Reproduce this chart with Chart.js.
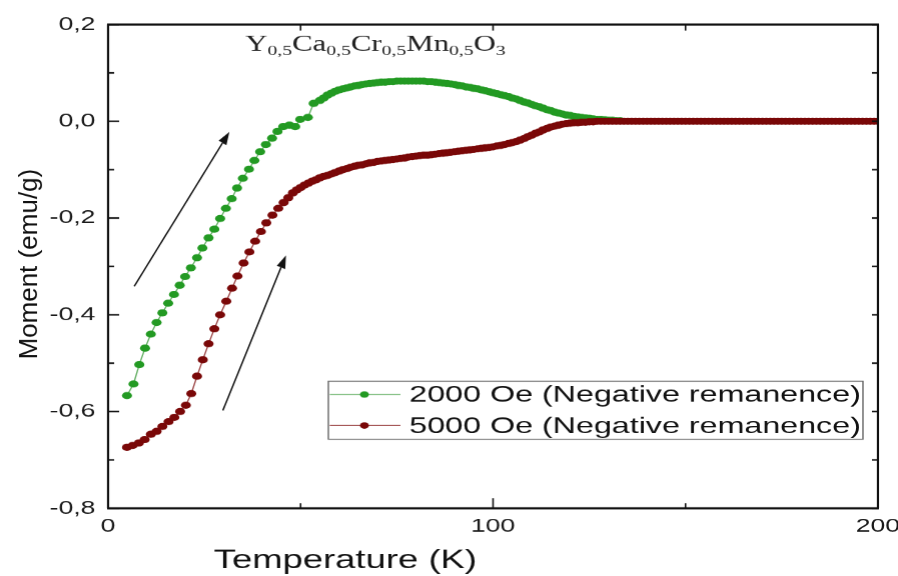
<!DOCTYPE html>
<html>
<head>
<meta charset="utf-8">
<script src="https://cdn.jsdelivr.net/npm/chart.js@4.4.1/dist/chart.umd.min.js"></script>
<style>
  html, body { margin: 0; padding: 0; background: #fff; }
  #chart { display: block; }
</style>
</head>
<body>
<canvas id="chart" width="641" height="576" style="width:898px;height:576px"></canvas>
<script>
// the original figure is stretched sideways, so the canvas is drawn narrow and widened by CSS
const SX = 1.4;

// 2000 Oe, negative remanence
const greenT = [
  4.9, 6.6, 8.1, 9.6, 11.1, 12.6, 14.1, 15.6, 17.1, 18.6,
  20.0, 21.5, 23.1, 24.5, 26.1, 27.6, 29.1, 30.6, 32.1, 33.5,
  35.0, 36.6, 38.0, 39.5, 41.0, 42.6, 44.0, 45.5, 47.1, 48.6,
  49.9, 51.9, 53.4,
  55, 56, 57, 58, 59, 60, 61, 62, 63, 64,
  65, 66, 67, 68, 69, 70, 71, 72, 73, 74,
  75, 76, 77, 78, 79, 80, 81, 82, 83, 84,
  85, 86, 87, 88, 89, 90, 91, 92, 93, 94,
  95, 96, 97, 98, 99, 100, 101, 102, 103, 104,
  105, 106, 107, 108, 109, 110, 111, 112, 113, 114,
  115, 116, 117, 118, 119, 120, 121, 122, 123, 124,
  125, 126, 127, 128, 129, 130, 131, 132, 133
];
const greenM = [
  -0.567, -0.543, -0.503, -0.469, -0.440, -0.416, -0.396, -0.376, -0.358, -0.339,
  -0.321, -0.303, -0.282, -0.262, -0.241, -0.223, -0.201, -0.180, -0.160, -0.138,
  -0.118, -0.099, -0.081, -0.063, -0.048, -0.035, -0.021, -0.011, -0.008, -0.011,
  0.004, 0.008, 0.037,
  0.043, 0.048, 0.054, 0.058, 0.062, 0.065, 0.067, 0.069, 0.071, 0.073,
  0.074, 0.076, 0.077, 0.078, 0.079, 0.080, 0.081, 0.081, 0.082, 0.082,
  0.083, 0.083, 0.083, 0.083, 0.083, 0.083, 0.083, 0.083, 0.082, 0.082,
  0.081, 0.080, 0.079, 0.078, 0.077, 0.076, 0.074, 0.073, 0.071, 0.070,
  0.068, 0.067, 0.065, 0.063, 0.061, 0.059, 0.057, 0.055, 0.053, 0.051,
  0.048, 0.046, 0.043, 0.040, 0.038, 0.035, 0.032, 0.030, 0.027, 0.024,
  0.022, 0.019, 0.017, 0.015, 0.013, 0.012, 0.010, 0.009, 0.008, 0.007,
  0.006, 0.005, 0.004, 0.004, 0.003, 0.002, 0.002, 0.001, 0.001
];

// 5000 Oe, negative remanence
const redT = [
  4.9, 6.4, 8.0, 9.5, 11.1, 12.6, 14.1, 15.7, 17.2, 18.7,
  20.2, 21.6, 23.1, 24.6, 26.1, 27.6, 29.1, 30.7, 32.2, 33.6,
  35.2, 36.7, 38.2, 39.7, 41.1, 42.7, 44.2, 45.6, 46.8,
  48, 49, 50, 51, 52, 53, 54, 55, 56, 57,
  58, 59, 60, 61, 62, 63, 64, 65, 66, 67,
  68, 69, 70, 71, 72, 73, 74, 75, 76, 77,
  78, 79, 80, 81, 82, 83, 84, 85, 86, 87,
  88, 89, 90, 91, 92, 93, 94, 95, 96, 97,
  98, 99, 100, 101, 102, 103, 104, 105, 106, 107,
  108, 109, 110, 111, 112, 113, 114, 115, 116, 117,
  118, 119, 120, 121, 122, 123, 124, 125, 126,
  127, 128, 129, 130, 131, 132, 133, 134, 135, 136,
  137, 138, 139, 140, 141, 142, 143, 144, 145, 146,
  147, 148, 149, 150, 151, 152, 153, 154, 155, 156,
  157, 158, 159, 160, 161, 162, 163, 164, 165, 166,
  167, 168, 169, 170, 171, 172, 173, 174, 175, 176,
  177, 178, 179, 180, 181, 182, 183, 184, 185, 186,
  187, 188, 189, 190, 191, 192, 193, 194, 195, 196,
  197, 198, 199, 200
];
const redM = [
  -0.674, -0.670, -0.665, -0.658, -0.647, -0.641, -0.631, -0.621, -0.612, -0.600,
  -0.587, -0.563, -0.527, -0.493, -0.460, -0.429, -0.400, -0.372, -0.345, -0.320,
  -0.293, -0.270, -0.248, -0.228, -0.210, -0.194, -0.180, -0.168, -0.158,
  -0.148, -0.142, -0.137, -0.132, -0.128, -0.124, -0.121, -0.117, -0.114, -0.112,
  -0.109, -0.106, -0.103, -0.100, -0.098, -0.095, -0.093, -0.091, -0.090, -0.088,
  -0.086, -0.085, -0.083, -0.082, -0.081, -0.080, -0.079, -0.078, -0.077, -0.076,
  -0.074, -0.073, -0.072, -0.071, -0.070, -0.070, -0.069, -0.068, -0.067, -0.066,
  -0.065, -0.064, -0.063, -0.062, -0.061, -0.060, -0.059, -0.058, -0.057, -0.056,
  -0.055, -0.054, -0.053, -0.051, -0.050, -0.048, -0.046, -0.044, -0.042, -0.039,
  -0.036, -0.032, -0.029, -0.025, -0.022, -0.018, -0.015, -0.012, -0.010, -0.008,
  -0.006, -0.005, -0.004, -0.003, -0.003, -0.002, -0.002, -0.001, -0.001,
  0, 0, 0, 0, 0, 0, 0, 0, 0, 0,
  0, 0, 0, 0, 0, 0, 0, 0, 0, 0,
  0, 0, 0, 0, 0, 0, 0, 0, 0, 0,
  0, 0, 0, 0, 0, 0, 0, 0, 0, 0,
  0, 0, 0, 0, 0, 0, 0, 0, 0, 0,
  0, 0, 0, 0, 0, 0, 0, 0, 0, 0,
  0, 0, 0, 0, 0, 0, 0, 0, 0, 0,
  0, 0, 0, 0
];

const seriesNames = ['2000 Oe (Negative remanence)', '5000 Oe (Negative remanence)'];

const xTickValues = [0, 100, 200];
const xTickLabels = ['0', '100', '200'];
const xMinorValues = [50, 150];
const yTickValues = [-0.8, -0.6, -0.4, -0.2, 0.0, 0.2];
const yTickLabels = ['-0,8', '-0,6', '-0,4', '-0,2', '0,0', '0,2'];
const yMinorValues = [-0.7, -0.5, -0.3, -0.1, 0.1];

// arrows drawn on the plot, in data units [T, M]
const arrowTails = [[6.8, -0.341], [29.8, -0.598]];
const arrowHeads = [[31.5, -0.022], [46.2, -0.277]];

const compound = [['Y', 0], ['0,5', 1], ['Ca', 0], ['0,5', 1], ['Cr', 0], ['0,5', 1], ['Mn', 0], ['0,5', 1], ['O', 0], ['3', 1]];

const SANS = '"Liberation Sans", Arial, sans-serif';
const SERIF = '"Liberation Serif", "Times New Roman", serif';
const GREEN = '#239a23';
const GREEN_LINE = 'rgba(70,160,70,0.85)';
const RED = '#7a0808';
const RED_LINE = 'rgba(140,40,40,0.85)';

const pts = (t, m) => t.map((v, i) => ({ x: v, y: m[i] }));

const decor = {
  id: 'decor',
  afterDatasetsDraw(chart) {
    const { ctx, chartArea: a, scales: { x, y } } = chart;
    const line = (x1, y1, x2, y2) => { ctx.beginPath(); ctx.moveTo(x1, y1); ctx.lineTo(x2, y2); ctx.stroke(); };
    ctx.save();
    ctx.strokeStyle = '#111';

    // inward ticks
    ctx.lineWidth = 1.6;
    yTickValues.forEach(v => { const p = y.getPixelForValue(v); line(a.left, p, a.left + 11 / SX, p); line(a.right, p, a.right - 6 / SX, p); });
    yMinorValues.forEach(v => { const p = y.getPixelForValue(v); line(a.left, p, a.left + 6 / SX, p); line(a.right, p, a.right - 6 / SX, p); });
    ctx.lineWidth = 1.6 / SX;
    xTickValues.forEach(v => { const p = x.getPixelForValue(v); line(p, a.bottom, p, a.bottom - 10); });
    xMinorValues.forEach(v => { const p = x.getPixelForValue(v); line(p, a.bottom, p, a.bottom - 5); });
    [50, 100, 150].forEach(v => { const p = x.getPixelForValue(v); line(p, a.top, p, a.top + 6); });

    // frame
    ctx.lineWidth = 2.2;
    line(a.left - 1 / SX, a.top, a.right + 1 / SX, a.top);
    line(a.left - 1 / SX, a.bottom, a.right + 1 / SX, a.bottom);
    ctx.lineWidth = 2.2 / SX;
    line(a.left, a.top, a.left, a.bottom);
    line(a.right, a.top, a.right, a.bottom);

    // arrows, drawn in unstretched pixels so the heads keep their shape
    ctx.save();
    ctx.scale(1 / SX, 1);
    ctx.fillStyle = '#111';
    ctx.lineWidth = 1.5;
    arrowTails.forEach((t, i) => {
      const h = arrowHeads[i];
      const x1 = x.getPixelForValue(t[0]) * SX, y1 = y.getPixelForValue(t[1]);
      const x2 = x.getPixelForValue(h[0]) * SX, y2 = y.getPixelForValue(h[1]);
      const ang = Math.atan2(y2 - y1, x2 - x1), c = Math.cos(ang), s = Math.sin(ang);
      const hl = 13, hw = 4.5;
      line(x1, y1, x2 - hl * c, y2 - hl * s);
      ctx.beginPath();
      ctx.moveTo(x2, y2);
      ctx.lineTo(x2 - hl * c + hw * s, y2 - hl * s - hw * c);
      ctx.lineTo(x2 - hl * c - hw * s, y2 - hl * s + hw * c);
      ctx.closePath();
      ctx.fill();
    });
    ctx.restore();

    // legend
    const lx = 234.3, lr = 615.7, ly = 381, lb = 439;
    ctx.fillStyle = '#fff';
    ctx.fillRect(lx, ly, lr - lx, lb - ly);
    ctx.strokeStyle = '#666';
    ctx.lineWidth = 1;
    ctx.strokeRect(lx, ly, lr - lx, lb - ly);
    const rows = [394.3, 425.3];
    const lineCols = [GREEN_LINE, RED_LINE];
    const dotCols = [GREEN, RED];
    rows.forEach((ry, i) => {
      ctx.strokeStyle = lineCols[i];
      ctx.lineWidth = 1;
      line(lx + 1, ry, 285.7, ry);
      ctx.fillStyle = dotCols[i];
      ctx.beginPath(); ctx.arc(260, ry, 3.2, 0, Math.PI * 2); ctx.fill();
      ctx.fillStyle = '#111';
      ctx.font = '23px ' + SANS;
      ctx.textAlign = 'left';
      ctx.textBaseline = 'middle';
      ctx.fillText(seriesNames[i], 292, ry + 1);
    });

    // compound formula
    let cx = 175;
    ctx.fillStyle = '#222';
    ctx.textBaseline = 'alphabetic';
    compound.forEach(([txt, sub]) => {
      ctx.font = (sub ? '14px ' : '22px ') + SERIF;
      ctx.fillText(txt, cx, sub ? 55 : 51);
      cx += ctx.measureText(txt).width;
    });

    // axis titles
    ctx.fillStyle = '#111';
    ctx.font = '26px ' + SANS;
    ctx.textAlign = 'center';
    ctx.textBaseline = 'middle';
    ctx.fillText('Temperature (K)', 246.4, 561);
    ctx.save();
    ctx.scale(1 / SX, 1);
    ctx.translate(30, 264);
    ctx.rotate(-Math.PI / 2);
    ctx.fillText('Moment (emu/g)', 0, 0);
    ctx.restore();

    ctx.restore();
  }
};

new Chart(document.getElementById('chart'), {
  type: 'line',
  data: {
    datasets: [
      {
        label: seriesNames[0],
        data: pts(greenT, greenM),
        order: 2,
        borderColor: GREEN_LINE,
        borderWidth: 1,
        pointRadius: 3.6,
        pointBorderWidth: 0,
        pointBackgroundColor: GREEN,
        tension: 0
      },
      {
        label: seriesNames[1],
        data: pts(redT, redM),
        order: 1,
        borderColor: RED_LINE,
        borderWidth: 1,
        pointRadius: 3.6,
        pointBorderWidth: 0,
        pointBackgroundColor: RED,
        tension: 0
      }
    ]
  },
  options: {
    responsive: false,
    devicePixelRatio: SX,
    animation: false,
    layout: { padding: { top: 24.5, right: 14.6, bottom: 0, left: 0 } },
    plugins: { legend: { display: false }, tooltip: { enabled: false } },
    scales: {
      x: {
        type: 'linear',
        min: 0,
        max: 200,
        grid: { display: false, drawTicks: false },
        border: { display: false },
        afterBuildTicks: s => { s.ticks = xTickValues.map(v => ({ value: v })); },
        afterFit: s => { s.height = 68; s.paddingLeft = 0; s.paddingRight = 0; },
        ticks: {
          autoSkip: false,
          maxRotation: 0,
          padding: 7,
          color: '#1a1a1a',
          font: { family: SANS, size: 19 },
          callback: (v, i) => xTickLabels[i]
        }
      },
      y: {
        min: -0.8,
        max: 0.2,
        grid: { display: false, drawTicks: false },
        border: { display: false },
        afterBuildTicks: s => { s.ticks = yTickValues.map(v => ({ value: v })); },
        afterFit: s => { s.width = 77.14; s.paddingTop = 0; s.paddingBottom = 0; },
        ticks: {
          autoSkip: false,
          padding: 9,
          color: '#1a1a1a',
          font: { family: SANS, size: 19 },
          callback: (v, i) => yTickLabels[i]
        }
      }
    }
  },
  plugins: [decor]
});
</script>
</body>
</html>
